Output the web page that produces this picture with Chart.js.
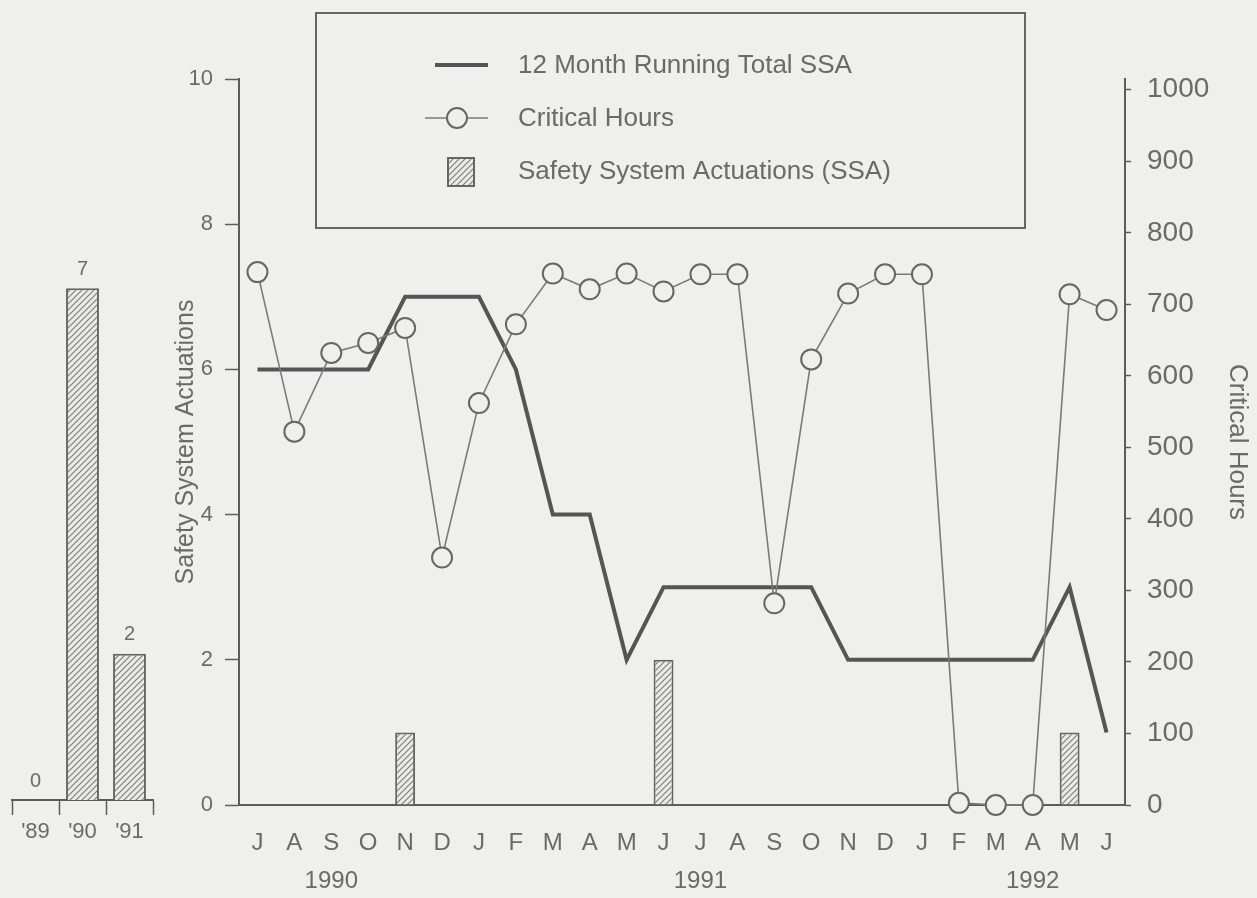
<!DOCTYPE html>
<html>
<head>
<meta charset="utf-8">
<script src="https://cdn.jsdelivr.net/npm/chart.js@4.4.1/dist/chart.umd.min.js"></script>
<style>
  html, body { margin: 0; padding: 0; background: #efefed; }
  #wrap { position: relative; width: 1257px; height: 898px; }
  #main, #annual { position: absolute; left: 0; top: 0; }
</style>
</head>
<body>
<div id="wrap">
  <canvas id="main" width="1257" height="898"></canvas>
  <canvas id="annual" width="165" height="898"></canvas>
</div>
<script>
// monthly data, Jul 1990 - Jun 1992
const months = ['J','A','S','O','N','D','J','F','M','A','M','J','J','A','S','O','N','D','J','F','M','A','M','J'];
const yearLabels = ['','','1990','','','','','','','','','','1991','','','','','','','','','1992','',''];
const runningTotal = [6,6,6,6,7,7,7,6,4,4,2,3,3,3,3,3,2,2,2,2,2,2,3,1];
const criticalHours = [745,522,632,646,667,346,562,672,743,721,743,718,742,742,282,623,715,742,742,3,0,0,714,692];
const monthlySSA = [0,0,0,0,1,0,0,0,0,0,0,2,0,0,0,0,0,0,0,0,0,0,1,0];

// yearly totals (small chart on the left)
const annualLabels = ["'89", "'90", "'91"];
const annualSSA = [0, 7, 2];

const ssaTicks = [0, 2, 4, 6, 8, 10];
const hourTicks = [0, 100, 200, 300, 400, 500, 600, 700, 800, 900, 1000];

const bg = '#efefed';
const ink = '#6a6a6a';
const axisInk = '#5c5c5c';
const family = '"Liberation Sans", Arial, Helvetica, sans-serif';

function hatchPattern(ctx) {
  const c = document.createElement('canvas');
  c.width = 6; c.height = 6;
  const g = c.getContext('2d');
  g.fillStyle = '#ebebe8';
  g.fillRect(0, 0, 6, 6);
  g.strokeStyle = '#7e7e7e';
  g.lineWidth = 1.2;
  g.beginPath();
  g.moveTo(0, 6); g.lineTo(6, 0);
  g.moveTo(-1, 1); g.lineTo(1, -1);
  g.moveTo(5, 7); g.lineTo(7, 5);
  g.stroke();
  return ctx.createPattern(c, 'repeat');
}

const mainCtx = document.getElementById('main').getContext('2d');
const hatch = hatchPattern(mainCtx);
const annualCtx = document.getElementById('annual').getContext('2d');
const hatch2 = hatchPattern(annualCtx);

// legend in a box, drawn from the dataset labels
const legendBox = {
  id: 'legendBox',
  afterDraw(chart) {
    const ctx = chart.ctx;
    const ds = chart.data.datasets;
    ctx.save();
    ctx.strokeStyle = '#666';
    ctx.lineWidth = 2;
    ctx.strokeRect(316, 13, 709, 215);

    ctx.font = '26px ' + family;
    ctx.fillStyle = ink;
    ctx.textBaseline = 'middle';
    ctx.textAlign = 'left';

    // running total
    ctx.strokeStyle = ds[0].borderColor;
    ctx.lineWidth = 4;
    ctx.beginPath(); ctx.moveTo(435, 65); ctx.lineTo(488, 65); ctx.stroke();
    ctx.fillText(ds[0].label, 518, 66);

    // critical hours
    ctx.strokeStyle = ds[1].borderColor;
    ctx.lineWidth = 1.6;
    ctx.beginPath(); ctx.moveTo(425, 118); ctx.lineTo(488, 118); ctx.stroke();
    ctx.beginPath(); ctx.arc(457, 118, 10, 0, Math.PI * 2);
    ctx.fillStyle = bg; ctx.fill();
    ctx.strokeStyle = ds[1].pointBorderColor; ctx.lineWidth = 2; ctx.stroke();
    ctx.fillStyle = ink;
    ctx.fillText(ds[1].label, 518, 119);

    // SSA bars
    ctx.fillStyle = ds[2].backgroundColor;
    ctx.fillRect(448, 158, 26, 28);
    ctx.strokeStyle = ds[2].borderColor; ctx.lineWidth = 2;
    ctx.strokeRect(448, 158, 26, 28);
    ctx.fillStyle = ink;
    ctx.fillText(ds[2].label, 518, 172);
    ctx.restore();
  }
};

new Chart(mainCtx, {
  data: {
    labels: months,
    datasets: [
      {
        type: 'line',
        label: '12 Month Running Total SSA',
        data: runningTotal,
        yAxisID: 'y',
        borderColor: '#555555',
        borderWidth: 4,
        pointRadius: 0,
        tension: 0,
        order: 2,
        clip: false
      },
      {
        type: 'line',
        label: 'Critical Hours',
        data: criticalHours,
        yAxisID: 'y1',
        borderColor: '#7a7a7a',
        borderWidth: 1.6,
        pointRadius: 10,
        pointBorderWidth: 2,
        pointBackgroundColor: bg,
        pointBorderColor: '#666666',
        tension: 0,
        order: 1,
        clip: false
      },
      {
        type: 'bar',
        label: 'Safety System Actuations (SSA)',
        data: monthlySSA,
        yAxisID: 'y',
        backgroundColor: hatch,
        borderColor: '#666666',
        borderWidth: 2,
        barPercentage: 0.54,
        categoryPercentage: 1,
        order: 3
      }
    ]
  },
  options: {
    responsive: false,
    animation: false,
    layout: { padding: { left: 160, top: 79, right: 0, bottom: 0 } },
    plugins: { legend: { display: false }, tooltip: { enabled: false } },
    scales: {
      x: {
        offset: true,
        grid: { display: false, drawTicks: false },
        border: { display: true, color: axisInk, width: 2 },
        ticks: {
          autoSkip: false,
          maxRotation: 0,
          padding: 19,
          color: ink,
          font: { family: family, size: 24, lineHeight: 1.6 },
          callback: (v, i) => yearLabels[i] ? [months[i], yearLabels[i]] : months[i]
        },
        afterFit: s => { s.height = 93; }
      },
      y: {
        position: 'left',
        min: 0,
        max: 10,
        afterBuildTicks: s => { s.ticks = ssaTicks.map(v => ({ value: v })); },
        ticks: { padding: 12, color: ink, font: { family: family, size: 22 }, callback: v => String(v) },
        grid: { drawOnChartArea: false, tickLength: 14, tickColor: axisInk, tickWidth: 1.5 },
        border: { color: axisInk, width: 2 },
        title: {
          display: true,
          text: 'Safety System Actuations',
          color: ink,
          font: { family: family, size: 25 },
          padding: { top: 11, bottom: 0 }
        },
        afterFit: s => { s.width = 79; }
      },
      y1: {
        position: 'right',
        min: 0,
        max: 1015,
        afterBuildTicks: s => { s.ticks = hourTicks.map(v => ({ value: v })); },
        ticks: { padding: 16, color: ink, font: { family: family, size: 28 }, callback: v => String(v) },
        grid: { drawOnChartArea: false, tickLength: 6, tickColor: axisInk, tickWidth: 1.5 },
        border: { color: axisInk, width: 2 },
        title: {
          display: true,
          text: 'Critical Hours',
          color: ink,
          font: { family: family, size: 26 },
          padding: { top: 4, bottom: 0 }
        },
        afterFit: s => { s.width = 132; }
      }
    }
  },
  plugins: [legendBox]
});

// numbers above the yearly bars
const valueLabels = {
  id: 'valueLabels',
  afterDatasetsDraw(chart) {
    const ctx = chart.ctx;
    const meta = chart.getDatasetMeta(0);
    ctx.save();
    ctx.font = '20px ' + family;
    ctx.fillStyle = ink;
    ctx.textAlign = 'center';
    ctx.textBaseline = 'bottom';
    meta.data.forEach((bar, i) => {
      ctx.fillText(String(chart.data.datasets[0].data[i]), bar.x, bar.y - 9);
    });
    ctx.restore();
  }
};

new Chart(annualCtx, {
  type: 'bar',
  data: {
    labels: annualLabels,
    datasets: [{
      data: annualSSA,
      backgroundColor: hatch2,
      borderColor: '#666666',
      borderWidth: 2,
      barPercentage: 0.7,
      categoryPercentage: 1
    }]
  },
  options: {
    responsive: false,
    animation: false,
    layout: { padding: { left: 12, right: 12, top: 69, bottom: 0 } },
    plugins: { legend: { display: false }, tooltip: { enabled: false } },
    scales: {
      x: {
        grid: { offset: true, drawOnChartArea: false, tickLength: 15, tickColor: axisInk, tickWidth: 1.5 },
        border: { color: axisInk, width: 2 },
        ticks: { padding: 4, color: ink, font: { family: family, size: 22 } },
        afterFit: s => { s.height = 98; }
      },
      y: { display: false, min: 0, max: 10 }
    }
  },
  plugins: [valueLabels]
});
</script>
</body>
</html>
